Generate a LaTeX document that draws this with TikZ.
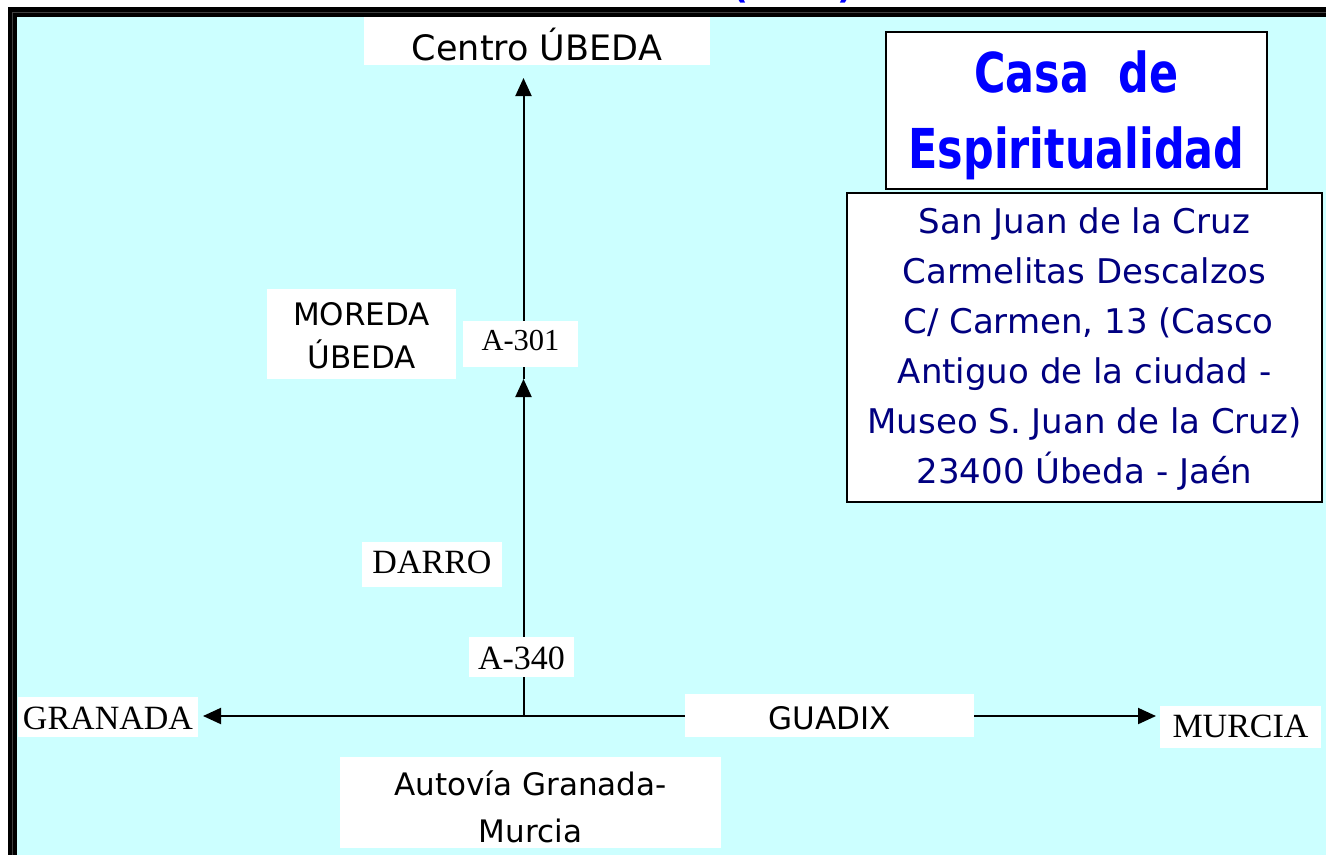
\documentclass[tikz,border=0pt]{standalone}
\usepackage{fontspec}
\usepackage{graphicx}
\usetikzlibrary{arrows.meta}
\newfontfamily\comicf{DejaVu Sans}
\newfontfamily\timesf{Liberation Serif}
\definecolor{bgcyan}{HTML}{CCFFFF}
\definecolor{navytext}{HTML}{000080}
\definecolor{titleblue}{HTML}{0000FF}
\definecolor{framegray}{HTML}{404040}
\begin{document}
\begin{tikzpicture}[x=1pt,y=-1pt,
  road/.style={line width=2pt,-{Triangle[length=18pt,width=16pt]}},
  labelbox/.style={fill=white,inner sep=0pt,anchor=base},
  framedbox/.style={fill=white,draw=black,line width=2pt,inner sep=0pt,anchor=base},
  comic/.style={font=\comicf\fontsize{#1pt}{#1pt}\selectfont},
  roman/.style={font=\timesf\fontsize{#1pt}{#1pt}\selectfont}
]
\useasboundingbox (0,0) rectangle (1326,855);
\fill[white] (0,0) rectangle (1326,855);
% clipped title fragment above the frame
\node[anchor=base, text=titleblue, font=\comicf\bfseries\fontsize{35pt}{40pt}\selectfont, inner sep=0pt] (toptitle) at (793,-1.5) {(\hspace{90pt})};
% frame
\fill[black] (8,7) rectangle (1326,855);
\draw[framegray,line width=1pt] (12,855) -- (12,12) -- (1326,12);
\fill[bgcyan] (17,17) rectangle (1326,855);

% connector points
\coordinate (junction) at (523.5,716);
\coordinate (midtip) at (523.5,379);
\coordinate (northtip) at (523.5,78);
\coordinate (westtip) at (203,716);
\coordinate (easttip) at (1156,716);

\draw[road] (junction) -- (midtip);
\draw[road] (midtip) -- (northtip);
\draw[road] (junction) -- (westtip);
\draw[road] (junction) -- (easttip);

% labels
\node[labelbox, comic=35, text height=43pt, text depth=5pt, minimum width=346pt] (centro) at (537,60) {Centro ÚBEDA};
\node[labelbox, roman=30.5, text height=29pt, text depth=17pt, minimum width=115pt] (a301) at (520.5,350) {A-301};
\node[labelbox, roman=34, text height=31pt, text depth=14pt, minimum width=140pt] (darro) at (432,573) {DARRO};
\node[labelbox, roman=34, text height=32pt, text depth=8pt, minimum width=105pt] (a340) at (521.5,669) {A-340};
\node[labelbox, roman=34, text height=32pt, text depth=8pt, minimum width=180pt] (granada) at (108,729) {GRANADA};
\node[labelbox, comic=31, text height=35pt, text depth=8pt, minimum width=289pt] (guadix) at (829.5,729) {GUADIX};
\node[labelbox, roman=34, text height=31pt, text depth=11pt, minimum width=161pt] (murcia) at (1240.5,737) {MURCIA};

\node[labelbox, font=\comicf\fontsize{31pt}{43pt}\selectfont, text height=36pt, text depth=54pt, minimum width=189pt] (moreda) at (361.5,325)
  {\parbox[t]{189pt}{\centering MOREDA\\ÚBEDA}};
\node[labelbox, font=\comicf\fontsize{31pt}{47pt}\selectfont, text height=38pt, text depth=53pt, minimum width=381pt] (autovia) at (530.5,795)
  {\parbox[t]{381pt}{\centering Autovía Granada-\\Murcia}};

\node[framedbox, text=titleblue, font=\comicf\bfseries\fontsize{55pt}{76pt}\selectfont, text height=60pt, text depth=97pt, minimum width=381pt] (casa) at (1076.5,92)
  {\scalebox{0.78}[1]{\parbox[t]{480pt}{\centering Casa\ \ de\\Espiritualidad}}};
\node[framedbox, text=navytext, font=\comicf\fontsize{34pt}{50pt}\selectfont, text height=40pt, text depth=269pt, minimum width=475pt] (address) at (1084.5,233)
  {\parbox[t]{475pt}{\centering San Juan de la Cruz\\Carmelitas Descalzos\\\hspace*{8pt}C/ Carmen, 13 (Casco\\Antiguo de la ciudad -\\Museo S. Juan de la Cruz)\\23400 Úbeda - Jaén}};
\end{tikzpicture}
\end{document}
